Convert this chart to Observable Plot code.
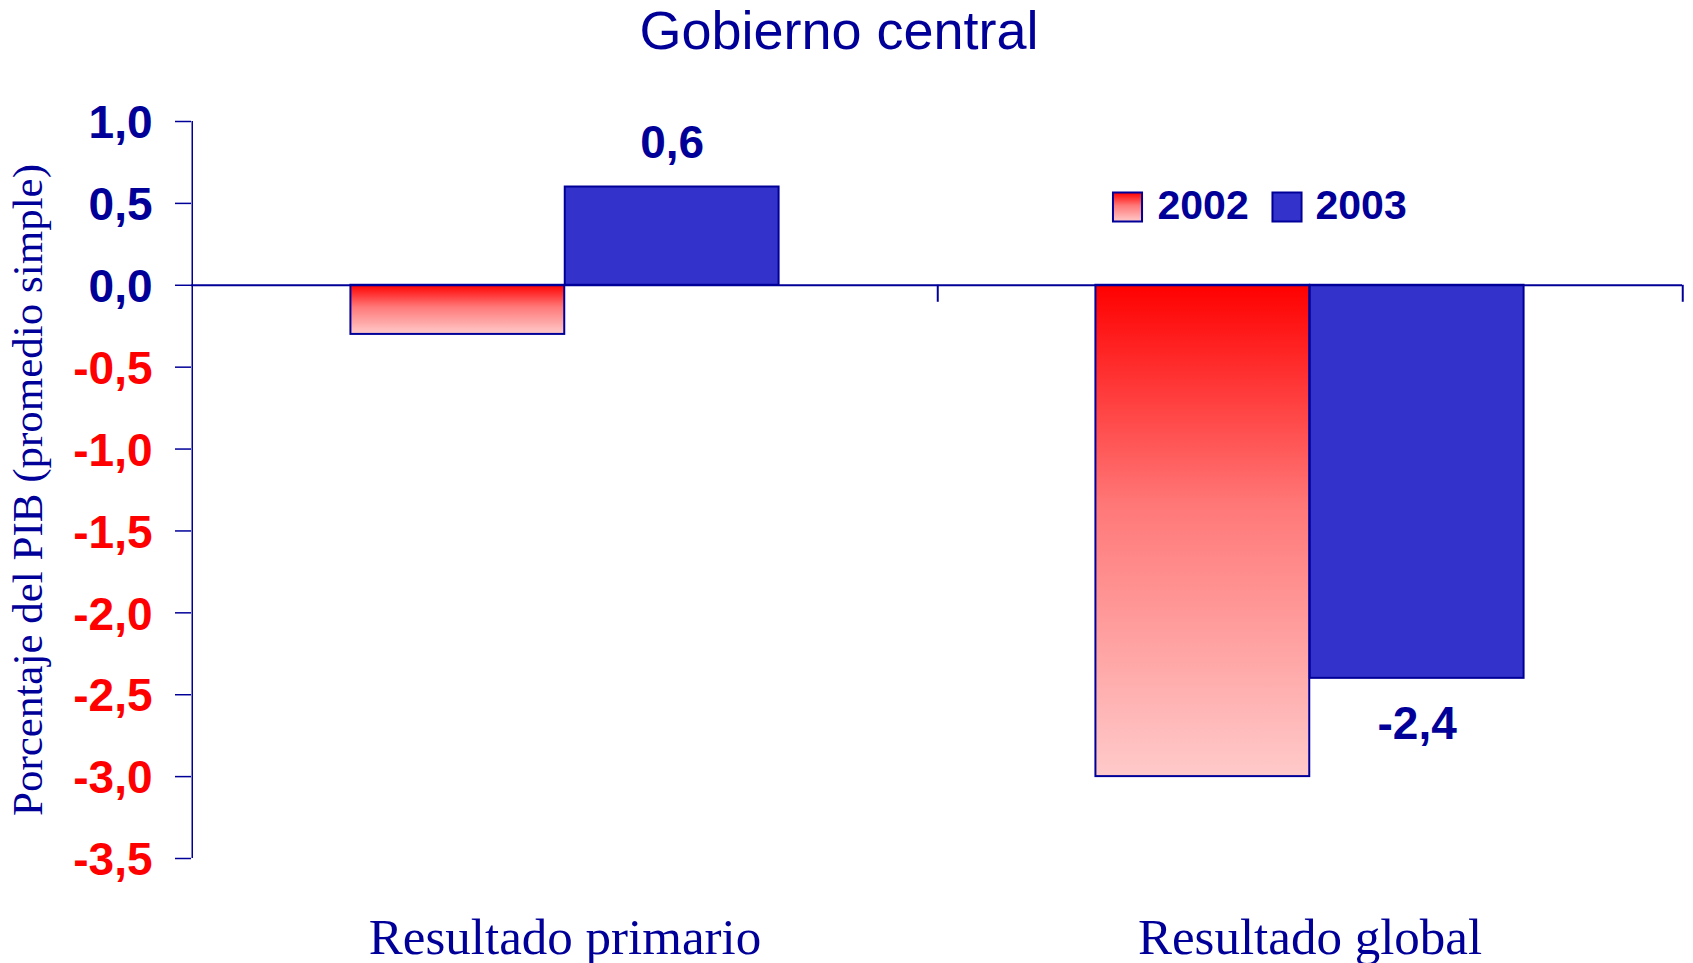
<!DOCTYPE html>
<html>
<head>
<meta charset="utf-8">
<script src="https://cdn.jsdelivr.net/npm/d3@7"></script>
<script src="https://cdn.jsdelivr.net/npm/@observablehq/plot@0.6"></script>
<style>
  body { margin: 0; background: #fff; }
  #title {
    height: 60px;
    font: 54px/60px "Liberation Sans", Arial, sans-serif;
    color: #000099;
    text-align: center;
    padding-right: 15px;
    white-space: nowrap;
  }
  #chart svg { display: block; }
</style>
</head>
<body>
<div id="title">Gobierno central</div>
<div id="chart"></div>
<script>
// ---- Data ----
const categories = ["Resultado primario", "Resultado global"];
const years = ["2002", "2003"];
const values2002 = [-0.3, -3.0];
const values2003 = [0.6, -2.4];
const yTicks = [1.0, 0.5, 0.0, -0.5, -1.0, -1.5, -2.0, -2.5, -3.0, -3.5];
const yTitle = "Porcentaje del PIB (promedio simple)";

// ---- Layout / style ----
const W = 1693, H = 903;
const mL = 191, mR = 11, mT = 61, mB = 105;
const frameW = W - mL - mR;
const bw = frameW / categories.length;       // band width
const outer = bw * 0.2125;                   // space outside the bar pair
const half = bw / 2;
const NAVY = "#000099";
const RED = "#FF0000";
const BLUE = "#3333CC";
const sans = "Liberation Sans, Arial, sans-serif";
const serif = "Liberation Serif, Times New Roman, serif";
const fmt = d => d.toFixed(1).replace(".", ",");

const rows2002 = categories.map((c, i) => ({category: c, year: years[0], value: values2002[i]}));
const rows2003 = categories.map((c, i) => ({category: c, year: years[1], value: values2003[i]}));

const barW = half - outer;
const legendMarks = years.map((yr, i) => [
  Plot.dot([yr], {
    frameAnchor: "top-left", dx: 936 + i * 159.5, dy: 85.5,
    symbol: "square", r: 16.4,
    fill: i === 0 ? "url(#grad2002)" : BLUE, stroke: NAVY, strokeWidth: 2
  }),
  Plot.text([yr], {
    frameAnchor: "top-left", dx: 966 + i * 158, dy: 84.5,
    text: d => d, textAnchor: "start", lineAnchor: "middle",
    fontFamily: sans, fontWeight: "bold", fontSize: 41, fill: NAVY
  })
]).flat();

const chart = Plot.plot({
  width: W, height: H,
  marginLeft: mL, marginRight: mR, marginTop: mT, marginBottom: mB,
  style: {background: "white", fontFamily: sans, color: NAVY, overflow: "visible"},
  x: {domain: categories, padding: 0, axis: null},
  y: {domain: [-3.5, 1.0], axis: null},
  marks: [
    // bars
    Plot.barY(rows2002, {
      x: "category", y: "value",
      fill: "url(#grad2002)", stroke: NAVY, strokeWidth: 2,
      insetLeft: outer, insetRight: half
    }),
    Plot.barY(rows2003, {
      x: "category", y: "value",
      fill: BLUE, stroke: NAVY, strokeWidth: 2,
      insetLeft: half, insetRight: outer
    }),
    // zero line (category axis)
    Plot.ruleY([0], {stroke: NAVY, strokeWidth: 2}),
    // category boundary ticks below zero line
    Plot.ruleX(categories, {
      x: d => d, dx: bw / 2, y1: () => 0, y2: () => 0,
      insetBottom: -17, stroke: NAVY, strokeWidth: 2
    }),
    // value axis line
    Plot.ruleX([categories[0]], {x: d => d, dx: -bw / 2, stroke: NAVY, strokeWidth: 1.5}),
    // value axis ticks
    Plot.ruleY(yTicks, {y: d => d, insetLeft: -16, insetRight: frameW, stroke: NAVY, strokeWidth: 1.5}),
    // value axis labels
    Plot.text(yTicks.filter(d => d >= 0), {
      y: d => d, text: fmt, frameAnchor: "left", dx: -39, dy: 2,
      textAnchor: "end", lineAnchor: "middle",
      fontFamily: sans, fontWeight: "bold", fontSize: 46, fill: NAVY
    }),
    Plot.text(yTicks.filter(d => d < 0), {
      y: d => d, text: fmt, frameAnchor: "left", dx: -39, dy: 2,
      textAnchor: "end", lineAnchor: "middle",
      fontFamily: sans, fontWeight: "bold", fontSize: 46, fill: RED
    }),
    // value labels for 2003 (centered on the 2003 bar)
    Plot.text(rows2003.filter(d => d.value >= 0), {
      x: "category", y: "value", text: d => fmt(d.value),
      dx: barW / 2, dy: -29, lineAnchor: "bottom",
      fontFamily: sans, fontWeight: "bold", fontSize: 46, fill: NAVY
    }),
    Plot.text(rows2003.filter(d => d.value < 0), {
      x: "category", y: "value", text: d => fmt(d.value),
      dx: barW / 2, dy: 60.5, lineAnchor: "bottom",
      fontFamily: sans, fontWeight: "bold", fontSize: 46, fill: NAVY
    }),
    // category labels
    Plot.text(categories, {
      x: d => d, text: d => d, frameAnchor: "bottom", dy: 95, lineAnchor: "bottom",
      fontFamily: serif, fontSize: 51, fill: NAVY
    }),
    // y title
    Plot.text([yTitle], {
      text: d => d, frameAnchor: "left", dx: -150, rotate: -90,
      lineAnchor: "bottom", textAnchor: "middle",
      fontFamily: serif, fontSize: 43, fill: NAVY
    }),
    ...legendMarks
  ]
});

// gradient definition for the 2002 series
const ns = "http://www.w3.org/2000/svg";
const defs = document.createElementNS(ns, "defs");
const grad = document.createElementNS(ns, "linearGradient");
grad.setAttribute("id", "grad2002");
grad.setAttribute("x1", "0"); grad.setAttribute("y1", "0");
grad.setAttribute("x2", "0"); grad.setAttribute("y2", "1");
[[0, "#FF0000"], [0.45, "#FF7878"], [1, "#FFCACA"]].forEach(([o, c]) => {
  const s = document.createElementNS(ns, "stop");
  s.setAttribute("offset", o);
  s.setAttribute("stop-color", c);
  grad.appendChild(s);
});
defs.appendChild(grad);
chart.insertBefore(defs, chart.firstChild);

document.getElementById("chart").appendChild(chart);
</script>
</body>
</html>
